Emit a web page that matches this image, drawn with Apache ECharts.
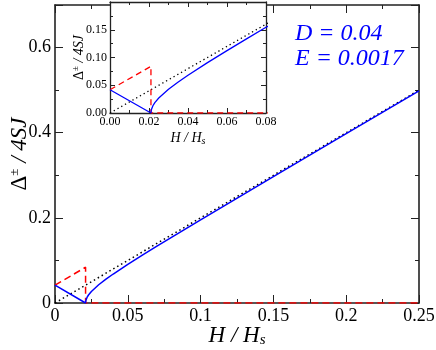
<!DOCTYPE html>
<html>
<head>
<meta charset="utf-8">
<script src="https://cdn.jsdelivr.net/npm/echarts@6/dist/echarts.min.js"></script>
<style>
  html, body { margin: 0; padding: 0; background: #fff; }
  #chart { width: 436px; height: 350px; }
</style>
</head>
<body>
<div id="chart"></div>
<script>
// values
const blueH = [0, 0.021, 0.0212, 0.0215, 0.022, 0.023, 0.025, 0.03, 0.035, 0.04, 0.05, 0.06, 0.07, 0.08, 0.1, 0.15, 0.2, 0.25]
const blueGap = [0.042, 0, 0.0058, 0.0092, 0.0131, 0.0188, 0.0271, 0.0428, 0.056, 0.0681, 0.0908, 0.1124, 0.1336, 0.1544, 0.1955, 0.297, 0.3978, 0.4982]
const redH = [0, 0.021, 0.021, 0.25]
const redGap = [0.042, 0.084, 0, 0]
const dotH = [0, 0.25]
const dotGap = [0, 0.5]

const serif = 'Liberation Serif'
const pairs = (xs, ys) => xs.map((x, i) => [x, ys[i]])

const chart = echarts.init(document.getElementById('chart'))

function valueAxis(opts) {
  const main = opts.main
  const axis = {
    type: 'value',
    gridIndex: opts.grid,
    position: opts.position,
    min: opts.min,
    max: opts.max,
    interval: opts.interval,
    axisLine: { show: true, lineStyle: { color: '#222', width: main ? 1.6 : 1.3 } },
    axisTick: { show: true, inside: true, length: main ? 8 : 5, lineStyle: { color: '#222', width: 1 } },
    minorTick: { show: true, splitNumber: 2, length: main ? 4 : 3, lineStyle: { color: '#222', width: 1 } },
    splitLine: { show: true, lineStyle: { color: 'rgba(0,0,0,0)' } },
    axisLabel: {
      margin: opts.margin || 4,
      color: '#000',
      fontFamily: serif,
      fontSize: main ? 18 : 12,
      formatter: opts.formatter || (() => '')
    }
  }
  // mirror axes: point onZero at an axis that does not exist so they stay on their own edge
  if (opts.mirror) axis.axisLine.onZeroAxisIndex = 99
  if (opts.z) axis.z = opts.z
  if (opts.name) {
    axis.name = opts.name
    axis.nameLocation = 'middle'
    axis.nameGap = opts.nameGap
    axis.nameMoveOverlap = false
    axis.nameTextStyle = { fontFamily: serif, color: '#000', rich: opts.rich }
  }
  return axis
}

const mainRich = {
  d: { fontFamily: serif, fontSize: 23, color: '#000' },
  sup: { fontFamily: serif, fontSize: 13, color: '#000', padding: [0, 0, 11, 0] },
  it: { fontFamily: serif, fontSize: 23, fontStyle: 'italic', color: '#000' },
  sub: { fontFamily: serif, fontSize: 15, fontStyle: 'italic', color: '#000', padding: [10, 0, 0, 0] }
}
const insetRich = {
  d: { fontFamily: serif, fontSize: 14, color: '#000' },
  sup: { fontFamily: serif, fontSize: 9, color: '#000', padding: [0, 0, 7, 0] },
  it: { fontFamily: serif, fontSize: 14, fontStyle: 'italic', color: '#000' },
  sub: { fontFamily: serif, fontSize: 10, fontStyle: 'italic', color: '#000', padding: [6, 0, 0, 0] }
}

const mainX = v => String(Math.round(v * 100) / 100)
const mainY = v => (v > 0.65 ? '' : String(Math.round(v * 10) / 10))
const insetX = v => v.toFixed(2)
const insetY = v => (v > 0.19 ? '' : v.toFixed(2))

const option = {
  animation: false,
  title: {
    text: 'D = 0.04\nE = 0.0017',
    left: 290,
    top: 16,
    textStyle: { fontFamily: serif, fontStyle: 'italic', fontWeight: 'normal', fontSize: 24, lineHeight: 25, color: '#0000ff' }
  },
  grid: [
    { left: 55, top: 5, width: 364, height: 298, outerBoundsMode: 'none' },
    { left: 110, top: 2, width: 156, height: 111, outerBoundsMode: 'none', show: true, backgroundColor: '#fff', borderWidth: 0, z: 3 }
  ],
  xAxis: [
    valueAxis({ main: true, grid: 0, position: 'bottom', min: 0, max: 0.25, interval: 0.05, margin: 4, formatter: mainX,
      name: '{it|H / H}{sub|s}', nameGap: 20, rich: mainRich }),
    valueAxis({ main: true, grid: 0, position: 'top', min: 0, max: 0.25, interval: 0.05, mirror: true }),
    valueAxis({ main: false, grid: 1, position: 'bottom', min: 0, max: 0.08, interval: 0.02, margin: 3, formatter: insetX,
      z: 4, name: '{it|H / H}{sub|s}', nameGap: 17, rich: insetRich }),
    valueAxis({ main: false, grid: 1, position: 'top', min: 0, max: 0.08, interval: 0.02, z: 4, mirror: true })
  ],
  yAxis: [
    valueAxis({ main: true, grid: 0, position: 'left', min: 0, max: 0.7, interval: 0.2, margin: 4, formatter: mainY,
      name: '{d|Δ}{sup|±}{it| / 4SJ}', nameGap: 23, rich: mainRich }),
    valueAxis({ main: true, grid: 0, position: 'right', min: 0, max: 0.7, interval: 0.2, mirror: true }),
    valueAxis({ main: false, grid: 1, position: 'left', min: 0, max: 0.2, interval: 0.05, margin: 3, formatter: insetY,
      z: 4, name: '{d|Δ}{sup|±}{it| / 4SJ}', nameGap: 23, rich: insetRich }),
    valueAxis({ main: false, grid: 1, position: 'right', min: 0, max: 0.2, interval: 0.05, z: 4, mirror: true })
  ],
  series: [
    { type: 'line', xAxisIndex: 0, yAxisIndex: 0, data: pairs(dotH, dotGap), symbol: 'none',
      lineStyle: { color: '#000', width: 1.5, type: [1.5, 3] } },
    { type: 'line', xAxisIndex: 0, yAxisIndex: 0, data: pairs(redH, redGap), symbol: 'none',
      lineStyle: { color: '#ff0000', width: 1.5, type: [7, 4] } },
    { type: 'line', xAxisIndex: 0, yAxisIndex: 0, data: pairs(blueH, blueGap), symbol: 'none',
      lineStyle: { color: '#0000ff', width: 1.5 } },
    { type: 'line', xAxisIndex: 2, yAxisIndex: 2, data: pairs(dotH, dotGap), symbol: 'none', z: 5,
      lineStyle: { color: '#000', width: 1.3, type: [1.3, 3] } },
    { type: 'line', xAxisIndex: 2, yAxisIndex: 2, data: pairs(redH, redGap), symbol: 'none', z: 5,
      lineStyle: { color: '#ff0000', width: 1.3, type: [6, 4] } },
    { type: 'line', xAxisIndex: 2, yAxisIndex: 2, data: pairs(blueH, blueGap), symbol: 'none', z: 5,
      lineStyle: { color: '#0000ff', width: 1.3 } }
  ]
}

chart.setOption(option)
</script>
</body>
</html>
